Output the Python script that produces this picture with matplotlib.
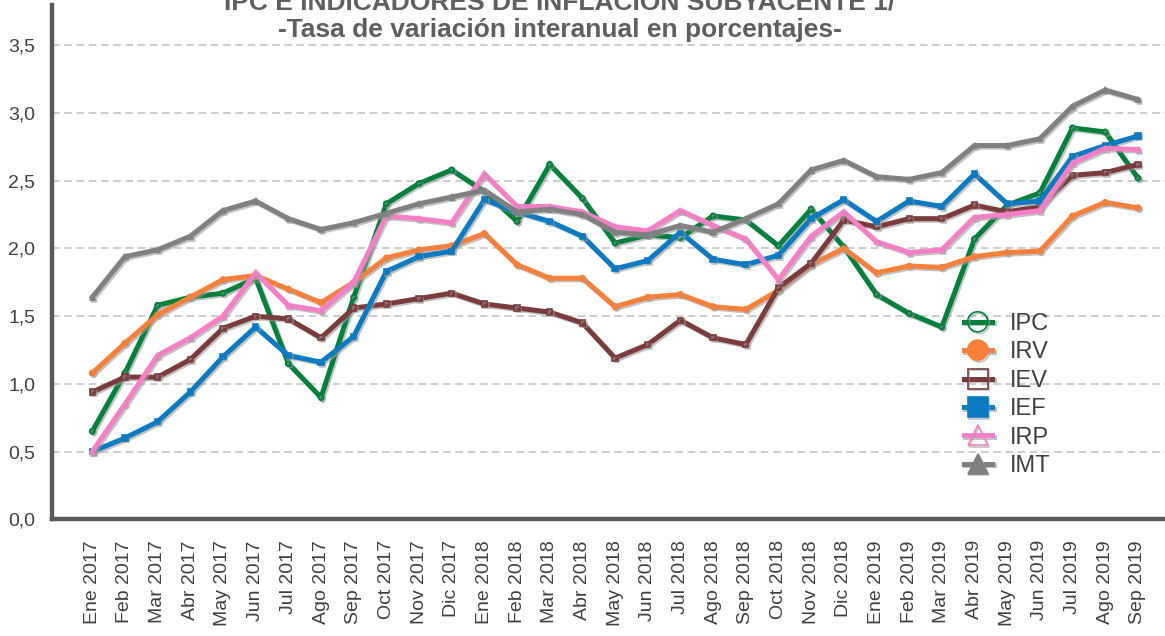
import numpy as np
import matplotlib
matplotlib.use("Agg")
import matplotlib.pyplot as plt
import matplotlib.patheffects as pe

plt.rcParams['font.family'] = ['Liberation Sans', 'DejaVu Sans']

# meses (Ene 2017 - Sep 2019)
meses = ['Ene', 'Feb', 'Mar', 'Abr', 'May', 'Jun', 'Jul', 'Ago', 'Sep', 'Oct', 'Nov', 'Dic']
etiquetas = [m + ' ' + str(a) for a in (2017, 2018, 2019) for m in meses][:33]

ipc = [0.65, 1.08, 1.58, 1.64, 1.67, 1.78, 1.15, 0.90, 1.64, 2.33, 2.48, 2.58,
       2.42, 2.20, 2.62, 2.37, 2.04, 2.10, 2.08, 2.24, 2.21, 2.02, 2.29, 2.01,
       1.66, 1.52, 1.42, 2.07, 2.32, 2.41, 2.89, 2.86, 2.52]
irv = [1.08, 1.30, 1.51, 1.64, 1.77, 1.80, 1.70, 1.60, 1.75, 1.93, 1.99, 2.02,
       2.11, 1.88, 1.78, 1.78, 1.57, 1.64, 1.66, 1.57, 1.55, 1.69, 1.88, 2.00,
       1.82, 1.87, 1.86, 1.94, 1.97, 1.98, 2.24, 2.34, 2.30]
iev = [0.94, 1.05, 1.05, 1.18, 1.41, 1.50, 1.48, 1.34, 1.56, 1.59, 1.63, 1.67,
       1.59, 1.56, 1.53, 1.45, 1.19, 1.29, 1.47, 1.34, 1.29, 1.71, 1.89, 2.21,
       2.16, 2.22, 2.22, 2.32, 2.27, 2.31, 2.54, 2.56, 2.62]
ief = [0.50, 0.60, 0.72, 0.94, 1.20, 1.42, 1.21, 1.16, 1.35, 1.83, 1.94, 1.98,
       2.36, 2.27, 2.20, 2.09, 1.85, 1.91, 2.12, 1.92, 1.88, 1.95, 2.22, 2.36,
       2.20, 2.35, 2.31, 2.55, 2.33, 2.35, 2.68, 2.76, 2.83]
irp = [0.50, 0.85, 1.21, 1.34, 1.50, 1.82, 1.58, 1.54, 1.75, 2.24, 2.22, 2.19,
       2.55, 2.31, 2.31, 2.27, 2.16, 2.13, 2.28, 2.17, 2.07, 1.77, 2.09, 2.27,
       2.05, 1.97, 1.99, 2.23, 2.25, 2.28, 2.63, 2.74, 2.73]
imt = [1.64, 1.94, 1.99, 2.09, 2.28, 2.35, 2.22, 2.14, 2.19, 2.26, 2.33, 2.38,
       2.43, 2.27, 2.29, 2.25, 2.12, 2.10, 2.17, 2.12, 2.22, 2.33, 2.58, 2.65,
       2.53, 2.51, 2.56, 2.76, 2.76, 2.81, 3.05, 3.17, 3.10]

series = [
    ('IPC', ipc, '#00803C', 'o', 'none'),
    ('IRV', irv, '#F9803B', 'o', None),
    ('IEV', iev, '#7B3B3B', 's', 'none'),
    ('IEF', ief, '#0A7AC2', 's', None),
    ('IRP', irp, '#F77FC6', '^', 'none'),
    ('IMT', imt, '#808080', '^', None),
]

fig = plt.figure(figsize=(11.65, 6.36), dpi=100)
ax = fig.add_axes([0.0446, 0.1835, 0.9554, 0.8087])

x = np.arange(len(etiquetas))
sombra = [pe.SimpleLineShadow(offset=(1.2, -1.2), shadow_color='#9a9a9a', alpha=0.6), pe.Normal()]
for nombre, vals, col, mk, fc in series:
    ax.plot(x, vals, color=col, lw=3.6, marker=mk, ms=3.8, mew=1.2,
            mfc=(col if fc is None else fc), mec=col, label=nombre,
            path_effects=sombra, solid_joinstyle='miter')

ax.set_xlim(-1.234, 32.83)
ax.set_ylim(0, 3.798)
ax.set_yticks(np.arange(0, 3.51, 0.5))
ax.set_yticklabels([('%.1f' % v).replace('.', ',') for v in np.arange(0, 3.51, 0.5)])
ax.set_xticks(x)
ax.set_xticklabels(etiquetas, rotation=90)
ax.tick_params(axis='both', length=0, labelsize=14, colors='#404040')
ax.tick_params(axis='y', pad=12)
ax.tick_params(axis='x', pad=15)

ax.yaxis.grid(True, color='#c0c0c0', ls=(0, (5, 3)), lw=1.1)
ax.set_axisbelow(True)
for s in ('top', 'right'):
    ax.spines[s].set_visible(False)
for s in ('left', 'bottom'):
    ax.spines[s].set_color('#5a5a5a')
    ax.spines[s].set_linewidth(3.2)

# titulo en dos lineas, la primera queda recortada arriba
fig.text(0.4807, 0.984, 'IPC E INDICADORES DE INFLACIÓN SUBYACENTE 1/',
         ha='center', va='baseline', fontsize=19, fontweight='bold', color='#5f5f5f')
fig.text(0.4807, 0.9418, '-Tasa de variación interanual en porcentajes-',
         ha='center', va='baseline', fontsize=19, fontweight='bold', color='#5f5f5f')

leg = ax.legend(loc='upper left', bbox_to_anchor=(0.819, 0.401), frameon=False,
                fontsize=17, markerscale=3.8, handlelength=1.2, handletextpad=0.75,
                labelspacing=0.27, borderpad=0, borderaxespad=0)
for t in leg.get_texts():
    t.set_color('#404040')

fig.savefig('out.png', dpi=100)
